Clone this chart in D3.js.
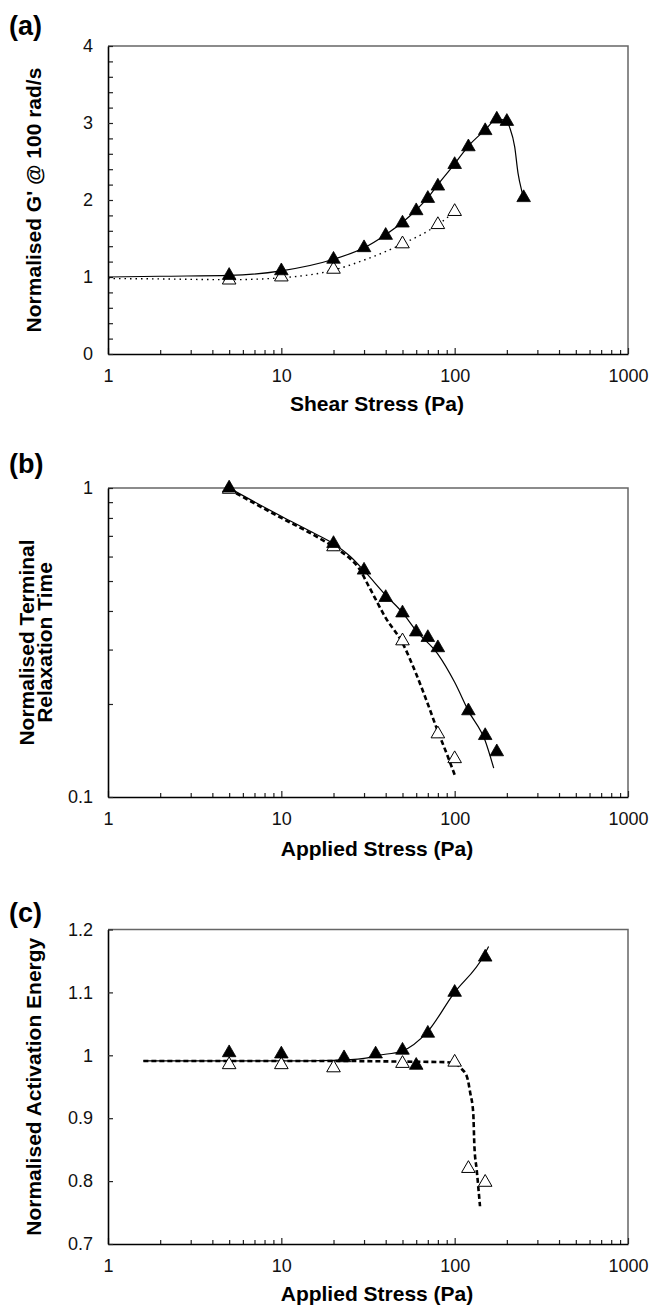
<!DOCTYPE html>
<html>
<head>
<meta charset="utf-8">
<script src="https://cdn.jsdelivr.net/npm/d3@7"></script>
<style>
  body { margin: 0; background: #fff; }
  svg { display: block; }
  .tick-label { font-family: "Liberation Sans", Arial, sans-serif; font-size: 18px; fill: #111; }
  .axis-title { font-family: "Liberation Sans", Arial, sans-serif; font-size: 21px; font-weight: bold; fill: #000; }
  .panel-tag { font-family: "Liberation Sans", Arial, sans-serif; font-size: 27px; font-weight: bold; fill: #000; }
</style>
</head>
<body>
<div id="chart"></div>
<script>
// Shared x ticks (log axis)
const xMajor = [1, 10, 100, 1000];

// Panel (a): normalised G' vs shear stress
const aFilledX = [5, 10, 20, 30, 40, 50, 60, 70, 80, 100, 120, 150, 175, 200, 250];
const aFilledY = [1.02, 1.08, 1.23, 1.38, 1.54, 1.70, 1.86, 2.02, 2.18, 2.46, 2.69, 2.90, 3.05, 3.02, 2.03];
const aOpenX = [5, 10, 20, 50, 80, 100];
const aOpenY = [0.96, 1.00, 1.10, 1.43, 1.68, 1.85];
const aSolidX = [1, 2, 5, 10, 20, 30, 40, 50, 60, 70, 80, 100, 120, 150, 175, 200, 207, 222, 232, 243, 250];
const aSolidY = [1.0, 1.01, 1.02, 1.08, 1.23, 1.38, 1.55, 1.71, 1.87, 2.03, 2.2, 2.47, 2.7, 2.91, 3.05, 3.03, 2.95, 2.69, 2.35, 2.13, 2.03];
const aDotX = [1, 2, 5, 10, 20, 30, 50, 80, 100];
const aDotY = [0.98, 0.975, 0.965, 0.99, 1.09, 1.22, 1.43, 1.68, 1.85];

// Panel (b): normalised terminal relaxation time
const bFilledX = [5, 20, 30, 40, 50, 60, 70, 80, 120, 150, 175];
const bFilledY = [1.0, 0.661, 0.542, 0.442, 0.394, 0.342, 0.328, 0.304, 0.19, 0.158, 0.14];
const bOpenX = [5, 20, 50, 80, 100];
const bOpenY = [0.99, 0.645, 0.32, 0.16, 0.133];
const bSolidX = [5, 10, 15, 20, 25, 30, 40, 50, 60, 80, 100, 120, 150, 168];
const bSolidY = [1.0, 0.81, 0.72, 0.66, 0.6, 0.54, 0.45, 0.395, 0.345, 0.29, 0.235, 0.19, 0.152, 0.124];
const bDashX = [5, 10, 15, 20, 25, 28, 32, 40, 50, 60, 70, 80, 90, 100];
const bDashY = [0.99, 0.80, 0.71, 0.645, 0.59, 0.55, 0.48, 0.38, 0.315, 0.25, 0.2, 0.163, 0.138, 0.118];

// Panel (c): normalised activation energy
const cFilledX = [5, 10, 23, 35, 50, 60, 70, 100, 150];
const cFilledY = [1.004, 1.002, 0.996, 1.002, 1.008, 0.984, 1.035, 1.10, 1.156];
const cOpenX = [5, 10, 20, 50, 100, 120, 150];
const cOpenY = [0.985, 0.985, 0.98, 0.987, 0.989, 0.82, 0.798];
const cSolidX = [1.6, 10, 20, 30, 36, 49, 70, 98, 147, 157];
const cSolidY = [0.991, 0.991, 0.992, 0.995, 1.0, 1.006, 1.038, 1.097, 1.158, 1.173];
const cDashX = [1.6, 20, 50, 90, 100, 110, 118, 123, 128, 130, 134, 140];
const cDashY = [0.991, 0.991, 0.99, 0.989, 0.987, 0.978, 0.965, 0.94, 0.908, 0.855, 0.818, 0.76];

const zip = (xs, ys) => xs.map((x, i) => ({ x: x, y: ys[i] }));

const svg = d3.select("#chart").append("svg")
  .attr("width", 651)
  .attr("height", 1306);

function drawPanel(p) {
  const x = d3.scaleLog().domain([1, 1000]).range([108, 628]);
  const y = (p.log ? d3.scaleLog() : d3.scaleLinear()).domain(p.yDomain).range([p.bottom, p.top]);
  const g = svg.append("g");

  // frame: top and right in grey
  g.append("path")
    .attr("d", `M108,${p.top}H628V${p.bottom}`)
    .attr("fill", "none").attr("stroke", "#666").attr("stroke-width", 1.5);

  // x minor ticks
  const xMinor = [];
  for (let d = 1; d < 1000; d *= 10) for (let k = 2; k <= 9; k++) xMinor.push(d * k);
  g.append("g").attr("transform", `translate(0,${p.bottom})`)
    .call(d3.axisBottom(x).tickValues(xMinor).tickSize(-4).tickSizeOuter(0).tickFormat(""))
    .call(s => s.select(".domain").remove())
    .call(s => s.selectAll("line").attr("stroke", "#222").attr("stroke-width", 1.2));

  // x major ticks + labels
  g.append("g").attr("transform", `translate(0,${p.bottom})`)
    .call(d3.axisBottom(x).tickValues(xMajor).tickSize(-6).tickSizeOuter(0).tickPadding(15).tickFormat(d3.format("d")))
    .call(s => s.select(".domain").attr("stroke", "#000").attr("stroke-width", 1.6))
    .call(s => s.selectAll("line").attr("stroke", "#222").attr("stroke-width", 1.2))
    .call(s => s.selectAll("text").attr("class", "tick-label").attr("fill", null));

  // y minor ticks
  g.append("g").attr("transform", "translate(108,0)")
    .call(d3.axisLeft(y).tickValues(p.yMinor).tickSize(-5).tickSizeOuter(0).tickFormat(""))
    .call(s => s.select(".domain").remove())
    .call(s => s.selectAll("line").attr("stroke", "#222").attr("stroke-width", 1.2));

  // y major ticks + labels
  g.append("g").attr("transform", "translate(108,0)")
    .call(d3.axisLeft(y).tickValues(p.yMajor).tickSize(-5).tickSizeOuter(0).tickPadding(15).tickFormat(p.yFormat))
    .call(s => s.select(".domain").attr("stroke", "#000").attr("stroke-width", 1.6))
    .call(s => s.selectAll("line").attr("stroke", "#222").attr("stroke-width", 1.2))
    .call(s => s.selectAll("text").attr("class", "tick-label").attr("fill", null));

  const line = d3.line().x(d => x(d.x)).y(d => y(d.y)).curve(d3.curveMonotoneX);

  g.append("path").datum(p.solid)
    .attr("d", line).attr("fill", "none").attr("stroke", "#000").attr("stroke-width", 1.2);

  g.append("path").datum(p.dashed)
    .attr("d", line).attr("fill", "none").attr("stroke", "#000")
    .attr("stroke-width", p.dashWidth).attr("stroke-dasharray", p.dashArray);

  const tri = d3.symbol(d3.symbolTriangle, 80);

  g.selectAll(".open").data(p.open).enter().append("path")
    .attr("class", "open")
    .attr("d", tri)
    .attr("transform", d => `translate(${x(d.x)},${y(d.y)})`)
    .attr("fill", "#fff").attr("stroke", "#000").attr("stroke-width", 1);

  g.selectAll(".filled").data(p.filled).enter().append("path")
    .attr("class", "filled")
    .attr("d", tri)
    .attr("transform", d => `translate(${x(d.x)},${y(d.y)})`)
    .attr("fill", "#000").attr("stroke", "#000").attr("stroke-width", 0.8);

  // x axis title
  g.append("text").attr("class", "axis-title")
    .attr("x", 377).attr("y", p.xTitleY)
    .attr("text-anchor", "middle")
    .text(p.xTitle);

  // y axis title (one or more lines)
  const yc = (p.top + p.bottom) / 2;
  p.yTitle.forEach((t, i) => {
    g.append("text").attr("class", "axis-title")
      .attr("text-anchor", "middle")
      .attr("transform", `translate(${p.yTitleX[i]},${yc}) rotate(-90)`)
      .text(t);
  });

  // panel letter
  g.append("text").attr("class", "panel-tag")
    .attr("x", 9).attr("y", p.tagY)
    .text(p.tag);
}

drawPanel({
  tag: "(a)", tagY: 35,
  top: 46, bottom: 354,
  yDomain: [0, 4],
  yMajor: [0, 1, 2, 3, 4],
  yMinor: d3.range(0.2, 4, 0.2).filter(v => Math.abs(v - Math.round(v)) > 0.01),
  yFormat: d3.format("d"),
  xTitle: "Shear Stress (Pa)", xTitleY: 411,
  yTitle: ["Normalised G' @ 100 rad/s"], yTitleX: [41],
  filled: zip(aFilledX, aFilledY),
  open: zip(aOpenX, aOpenY),
  solid: zip(aSolidX, aSolidY),
  dashed: zip(aDotX, aDotY),
  dashWidth: 1.4, dashArray: "1.5,4"
});

drawPanel({
  tag: "(b)", tagY: 473,
  top: 488, bottom: 797, log: true,
  yDomain: [0.1, 1],
  yMajor: [0.1, 1],
  yMinor: [0.2, 0.3, 0.4, 0.5, 0.6, 0.7, 0.8, 0.9],
  yFormat: d => d === 1 ? "1" : "0.1",
  xTitle: "Applied Stress (Pa)", xTitleY: 856,
  yTitle: ["Normalised Terminal", "Relaxation Time"], yTitleX: [34, 52],
  filled: zip(bFilledX, bFilledY),
  open: zip(bOpenX, bOpenY),
  solid: zip(bSolidX, bSolidY),
  dashed: zip(bDashX, bDashY),
  dashWidth: 2.6, dashArray: "5,3"
});

drawPanel({
  tag: "(c)", tagY: 922,
  top: 929.5, bottom: 1244,
  yDomain: [0.7, 1.2],
  yMajor: [0.7, 0.8, 0.9, 1.0, 1.1, 1.2],
  yMinor: [],
  yFormat: d => Math.abs(d - 1) < 1e-9 ? "1" : d3.format(".1f")(d),
  xTitle: "Applied Stress (Pa)", xTitleY: 1301,
  yTitle: ["Normalised Activation Energy"], yTitleX: [41],
  filled: zip(cFilledX, cFilledY),
  open: zip(cOpenX, cOpenY),
  solid: zip(cSolidX, cSolidY),
  dashed: zip(cDashX, cDashY),
  dashWidth: 2.6, dashArray: "5,3"
});
</script>
</body>
</html>
